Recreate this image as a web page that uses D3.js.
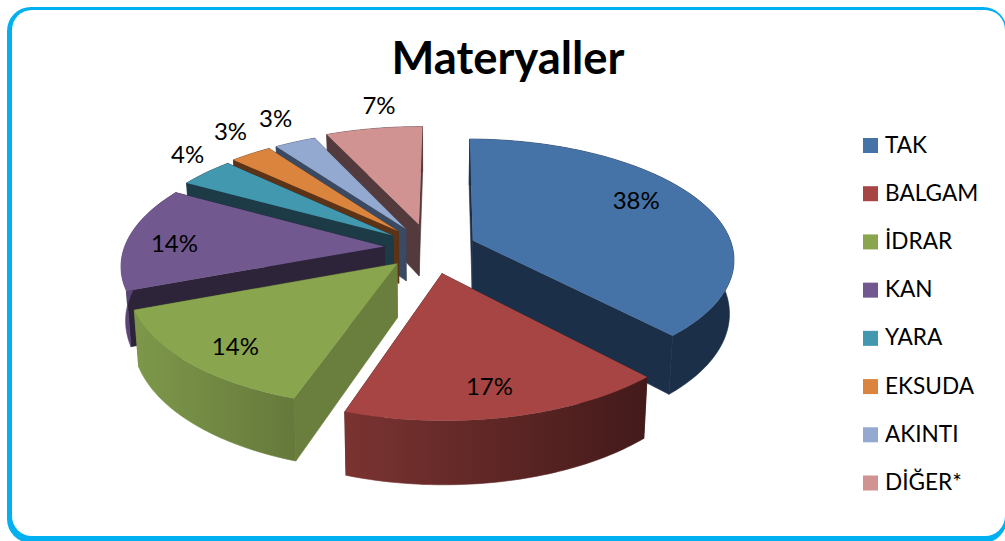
<!DOCTYPE html>
<html lang="tr">
<head>
<meta charset="utf-8">
<title>Materyaller</title>
<script src="https://cdn.jsdelivr.net/npm/d3@7/dist/d3.min.js"></script>
<style>
  html, body { margin: 0; padding: 0; background: #fff; overflow: hidden; }
  svg { display: block; }
  text { font-family: Lato, "Open Sans", sans-serif; fill: #000; }
</style>
</head>
<body>
<svg id="chart" width="1005" height="541"></svg>
<script>
// Sample types and their share of all specimens (percent)
const categories = ["TAK", "BALGAM", "İDRAR", "KAN", "YARA", "EKSUDA", "AKINTI", "DİĞER*"];
const shares = [38, 17, 14, 14, 4, 3, 3, 7];
const chartTitle = "Materyaller";

// Face colours of each wedge
const topColors = ["#4572a7", "#a64543", "#89a54e", "#71588f", "#4198af", "#db843d", "#93a9cf", "#d19392"];
const wallColors = ["#1b2f48", "#4a1c1c", "#6a7f3d", "#2e2439", "#1c3b47", "#5c3317", "#3b4a63", "#533a3c"];
const rimLeft = ["#1b2f48", "#7a3331", "#7d984a", "#5c4678", "#1c3b47", "#5c3317", "#3b4a63", "#533a3c"];
const rimRight = ["#1b2f48", "#431a1a", "#66793b", "#4a3862", "#1c3b47", "#5c3317", "#3b4a63", "#533a3c"];

// How far each wedge is pulled out of the pie, as a fraction of the radius
const explosions = [0.178, 0.215, 0.18, 0.177, 0.18, 0.19, 0.19, 0.21];

// Percentage label placement: distance from the wedge tip and turn away from its middle (degrees)
const labelRadii = [0.77, 0.805, 0.818, 0.814, 1.206, 1.273, 1.297, 1.276];
const labelTurns = [-7.6, 1.2, -2, -1.6, 4.6, 3.6, 2, 3.3];

const svg = d3.select("#chart");
const defs = svg.append("defs");

// Rounded frame: a cyan plate with a white panel set into it, so the band can vary in width
const framePlate = { x: 7, y: 7, right: 1007, bottom: 543, r: 24 };
const framePanel = { x: 12, y: 10, right: 1005, bottom: 536, r: 20 };
[[framePlate, "#00b0f0"], [framePanel, "#fff"]].forEach(([f, fill]) => {
  svg.append("rect")
    .attr("x", f.x).attr("y", f.y)
    .attr("width", f.right - f.x).attr("height", f.bottom - f.y)
    .attr("rx", f.r).attr("ry", f.r)
    .attr("fill", fill);
});

// Perspective projection of the tilted pie plane
const pie3d = { cx: 430, cy: 248, radius: 260, tilt: 0.454, eye: 7, depth: 53, rotation: 0.01 };

function project(px, py, lower) {
  const s = pie3d.eye / (pie3d.eye - py);
  const shrink = lower ? 0.985 : 1;
  return [
    pie3d.cx + pie3d.radius * px * s * shrink,
    pie3d.cy + pie3d.radius * pie3d.tilt * py * s + (lower ? pie3d.depth * s : 0)
  ];
}

const angleScale = d3.pie().sort(null).value(d => d)
  .startAngle(pie3d.rotation).endAngle(2 * Math.PI + pie3d.rotation);
const wedges = angleScale(shares).map((a, i) => {
  const mid = (a.startAngle + a.endAngle) / 2;
  return {
    i, a, mid,
    ox: explosions[i] * Math.sin(mid),
    oy: -explosions[i] * Math.cos(mid)
  };
});

const planePoint = (w, angle, r) => [w.ox + r * Math.sin(angle), w.oy - r * Math.cos(angle)];
const arcAngles = w => {
  const n = Math.max(6, Math.ceil((w.a.endAngle - w.a.startAngle) / 0.02));
  return d3.range(n + 1).map(k => w.a.startAngle + (w.a.endAngle - w.a.startAngle) * k / n);
};
const line = d3.line();

// Wedges are painted from the far side of the plane towards the viewer
const paintOrder = wedges.slice().sort((p, q) => Math.cos(q.mid) - Math.cos(p.mid));

const pieLayer = svg.append("g").attr("class", "pie");

paintOrder.forEach(w => {
  const g = pieLayer.append("g");
  const angles = arcAngles(w);
  const apexTop = project(w.ox, w.oy, false);
  const apexLow = project(w.ox, w.oy, true);

  // Rim shading runs horizontally across the wedge
  const rimPts = angles.map(t => project(...planePoint(w, t, 1), false));
  const gradId = "rim" + w.i;
  const grad = defs.append("linearGradient").attr("id", gradId)
    .attr("gradientUnits", "userSpaceOnUse")
    .attr("x1", d3.min(rimPts, p => p[0])).attr("x2", d3.max(rimPts, p => p[0]))
    .attr("y1", 0).attr("y2", 0);
  grad.append("stop").attr("offset", 0).attr("stop-color", rimLeft[w.i]);
  grad.append("stop").attr("offset", 1).attr("stop-color", rimRight[w.i]);

  // The two cut faces
  [w.a.startAngle, w.a.endAngle].forEach(t => {
    const e = planePoint(w, t, 1);
    g.append("path")
      .attr("d", line([apexTop, project(...e, false), project(...e, true), apexLow]) + "Z")
      .attr("fill", wallColors[w.i])
      .attr("stroke", wallColors[w.i]).attr("stroke-width", 0.6);
  });

  // Outer rim
  const lowPts = angles.map(t => project(...planePoint(w, t, 1), true)).reverse();
  g.append("path")
    .attr("d", line(rimPts.concat(lowPts)) + "Z")
    .attr("fill", `url(#${gradId})`)
    .attr("stroke", `url(#${gradId})`).attr("stroke-width", 0.6);

  // Top face
  g.append("path")
    .attr("d", line([apexTop].concat(rimPts)) + "Z")
    .attr("fill", topColors[w.i]);
});

// Percentage labels
const labelPoint = w => project(...planePoint(w, w.mid + labelTurns[w.i] * Math.PI / 180, labelRadii[w.i]), false);
svg.append("g").selectAll("text").data(wedges).join("text")
  .attr("x", w => labelPoint(w)[0])
  .attr("y", w => labelPoint(w)[1])
  .attr("text-anchor", "middle")
  .attr("dominant-baseline", "central")
  .attr("font-size", 24)
  .text(w => w.a.value + "%");

// Title
svg.append("text")
  .attr("x", 508).attr("y", 74)
  .attr("text-anchor", "middle")
  .attr("font-size", 45.4)
  .attr("font-weight", 700)
  .text(chartTitle);

// Legend
const legendY = d3.scalePoint().domain(categories).range([145.5, 483]);
const legendColor = d3.scaleOrdinal().domain(categories).range(topColors);
const legend = svg.append("g").selectAll("g").data(categories).join("g")
  .attr("transform", d => `translate(863,${legendY(d)})`);
legend.append("rect")
  .attr("y", -7.5).attr("width", 15).attr("height", 15)
  .attr("fill", d => legendColor(d));
legend.append("text")
  .attr("x", 22).attr("y", -1.5).attr("dominant-baseline", "central")
  .attr("font-size", 22.6)
  .text(d => d);
</script>
</body>
</html>
